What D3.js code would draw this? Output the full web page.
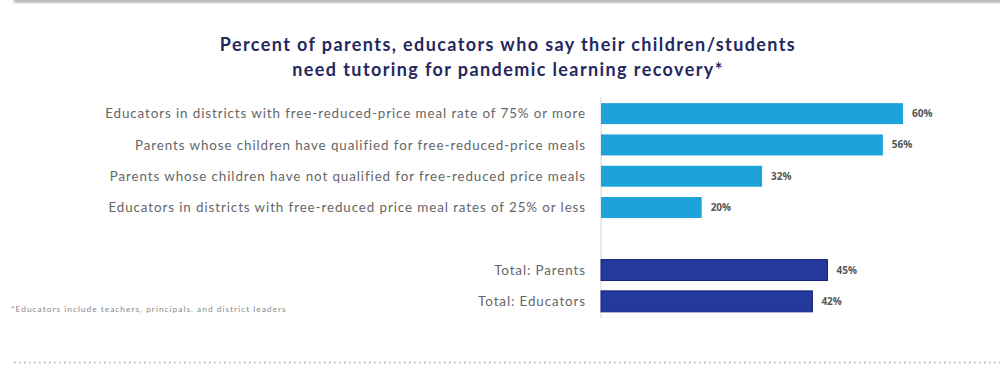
<!DOCTYPE html>
<html>
<head>
<meta charset="utf-8">
<script src="https://cdn.jsdelivr.net/npm/d3@7"></script>
<style>
  body { margin: 0; background: #fff; }
  svg { display: block; }
</style>
</head>
<body>
<div id="chart"></div>
<script>
// chart data
const groupLabels = [
  "Educators in districts with free-reduced-price meal rate of 75% or more",
  "Parents whose children have qualified for free-reduced-price meals",
  "Parents whose children have not qualified for free-reduced price meals",
  "Educators in districts with free-reduced price meal rates of 25% or less"
];
const groupValues = [60, 56, 32, 20];
const totalLabels = ["Total: Parents", "Total: Educators"];
const totalValues = [45, 42];
const titleLines = [
  "Percent of parents, educators who say their children/students",
  "need tutoring for pandemic learning recovery*"
];
const footnote = "*Educators include teachers, principals, and district leaders";

const width = 1000, height = 367;
const colors = { group: "#1ba3da", total: "#233a9c", totalEdge: "#17217a" };

const svg = d3.select("#chart")
  .append("svg")
  .attr("width", width)
  .attr("height", height);

/* top grey rule */
const defs = svg.append("defs");
defs.append("filter").attr("id", "blur")
  .append("feGaussianBlur").attr("stdDeviation", 0.8);
svg.append("rect")
  .attr("x", 14).attr("y", -2)
  .attr("width", width).attr("height", 5)
  .attr("fill", "#b9b9b9")
  .attr("filter", "url(#blur)");

/* title */
svg.append("g")
  .selectAll("text")
  .data(titleLines)
  .join("text")
  .attr("x", 508)
  .attr("y", (d, i) => 51 + i * 25)
  .attr("text-anchor", "middle")
  .attr("font-family", "Lato, sans-serif")
  .attr("font-weight", "bold")
  .attr("font-size", "18px")
  .attr("letter-spacing", "1.4px")
  .attr("fill", "#25285e")
  .text(d => d);

// rows: group rows, one empty slot, total rows
const rows = groupLabels.map((d, i) => ({ label: d, value: groupValues[i], kind: "group" }))
  .concat([{ label: "", value: null, kind: "gap" }])
  .concat(totalLabels.map((d, i) => ({ label: d, value: totalValues[i], kind: "total" })));

const y = d3.scaleBand()
  .domain(rows.map((d, i) => i))
  .range([98, 317])
  .paddingInner(0.33)
  .paddingOuter(0.165);

const x = d3.scaleLinear()
  .domain([0, 60])
  .range([601, 903]);

const data = rows.map((d, i) => Object.assign({ idx: i }, d)).filter(d => d.kind !== "gap");

/* category axis line */
svg.append("line")
  .attr("x1", x(0)).attr("x2", x(0))
  .attr("y1", 97).attr("y2", 318)
  .attr("stroke", "#d6d6d6")
  .attr("stroke-width", 1);

svg.append("g")
  .selectAll("text")
  .data(data)
  .join("text")
  .attr("x", x(0) - 15)
  .attr("y", d => y(d.idx) + y.bandwidth() / 2)
  .attr("dy", "0.35em")
  .attr("text-anchor", "end")
  .attr("font-family", "Lato, sans-serif")
  .attr("font-size", "13.4px")
  .attr("letter-spacing", "0.9px")
  .attr("fill", "#666")
  .text(d => d.label);

/* bars */
svg.append("g")
  .selectAll("rect")
  .data(data)
  .join("rect")
  .attr("x", x(0))
  .attr("y", d => y(d.idx))
  .attr("width", d => x(d.value) - x(0))
  .attr("height", y.bandwidth())
  .attr("fill", d => d.kind === "total" ? colors.total : colors.group)
  .attr("stroke", d => d.kind === "total" ? colors.totalEdge : "none")
  .attr("stroke-width", 1);

/* value labels */
svg.append("g")
  .selectAll("text")
  .data(data)
  .join("text")
  .attr("x", d => x(d.value) + 9)
  .attr("y", d => y(d.idx) + y.bandwidth() / 2)
  .attr("dy", "0.35em")
  .attr("font-family", "'Open Sans', sans-serif")
  .attr("font-weight", "bold")
  .attr("font-size", "10px")
  .attr("fill", "#555")
  .text(d => d.value + "%");

/* footnote */
svg.append("text")
  .attr("x", 11)
  .attr("y", 312)
  .attr("font-family", "Lato, sans-serif")
  .attr("font-size", "8.4px")
  .attr("letter-spacing", "1px")
  .attr("fill", "#8a8a8a")
  .text(footnote);

/* bottom dotted rule */
svg.append("line")
  .attr("x1", 14).attr("x2", width)
  .attr("y1", 362.5).attr("y2", 362.5)
  .attr("stroke", "#a8a8a8")
  .attr("stroke-width", 1.5)
  .attr("stroke-dasharray", "1.5,3.5");
</script>
</body>
</html>
